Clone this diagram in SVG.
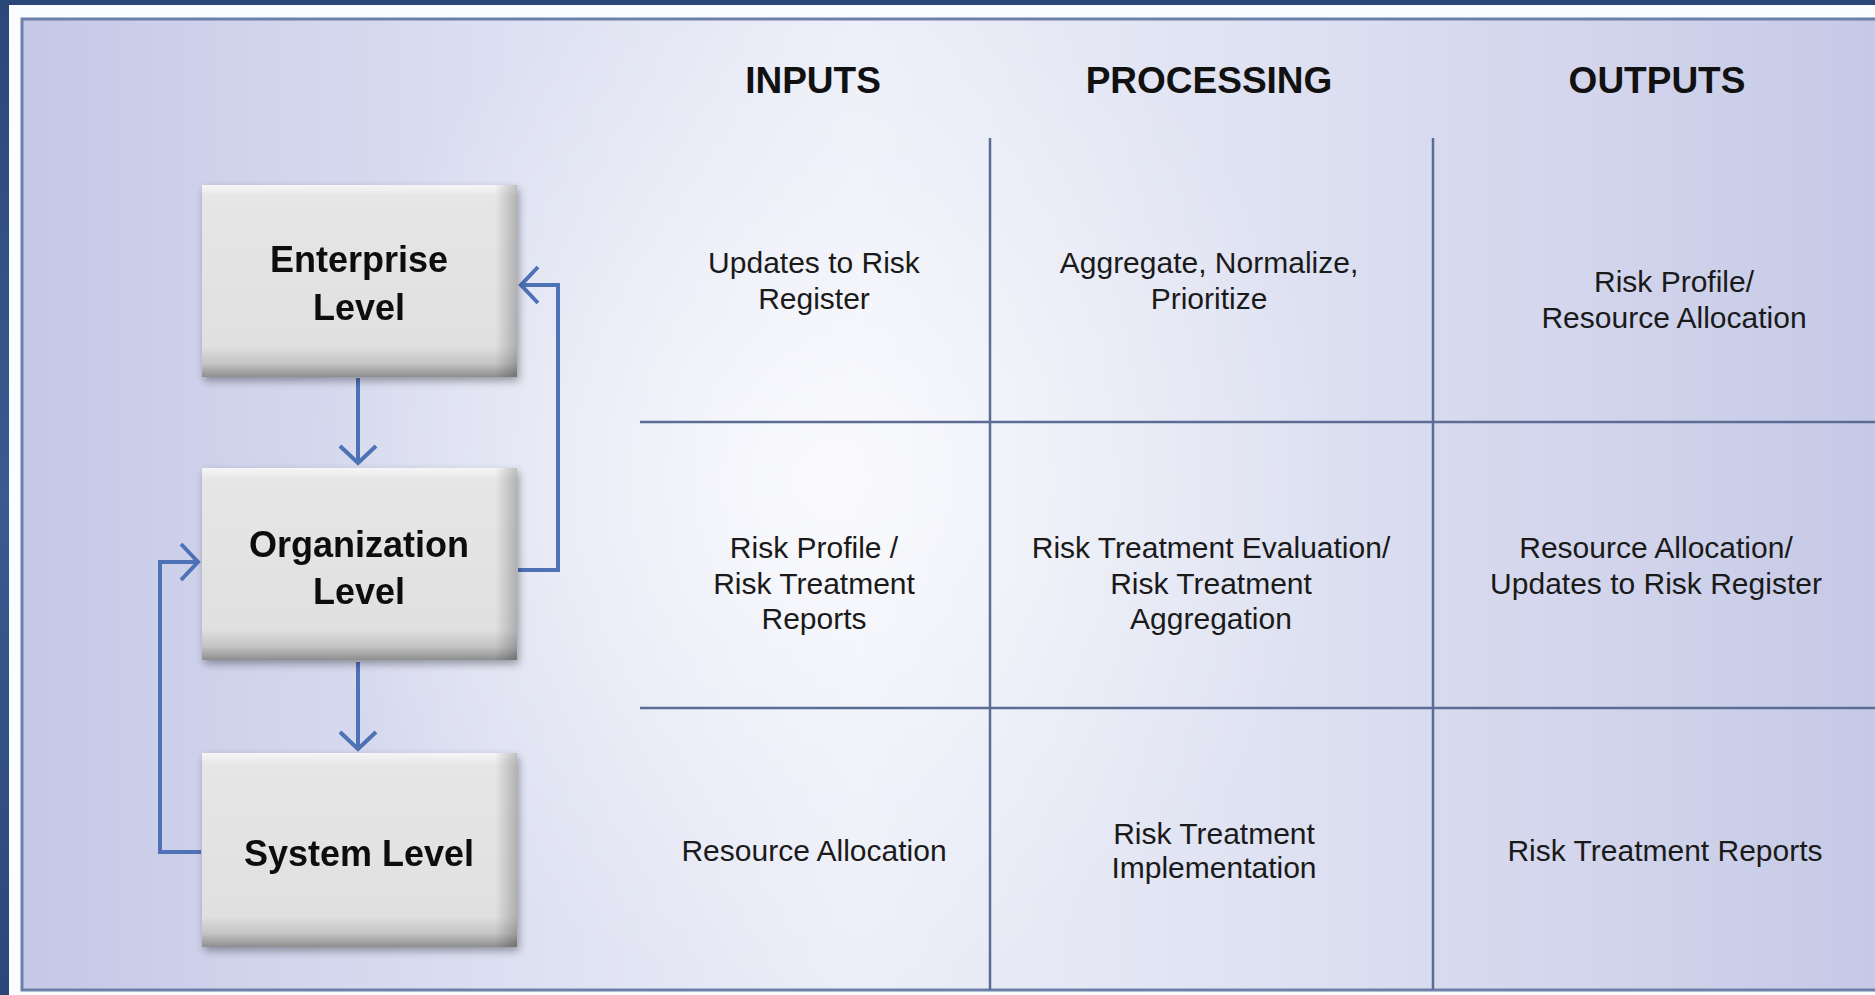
<svg xmlns="http://www.w3.org/2000/svg" width="1875" height="995" viewBox="0 0 1875 995">
  <defs>
    <linearGradient id="outerBg" x1="0" y1="0" x2="0" y2="1">
      <stop offset="0" stop-color="#2a4778"/>
      <stop offset="0.5" stop-color="#3a5a90"/>
      <stop offset="1" stop-color="#2a4778"/>
    </linearGradient>
    <linearGradient id="panelH" x1="0" y1="0" x2="1" y2="0">
      <stop offset="0" stop-color="#c5c8e6"/>
      <stop offset="0.25" stop-color="#dcdff1"/>
      <stop offset="0.45" stop-color="#eceef8"/>
      <stop offset="0.7" stop-color="#dde0f1"/>
      <stop offset="1" stop-color="#c6c9e6"/>
    </linearGradient>
    <radialGradient id="panelGlow" cx="820" cy="480" r="520" gradientUnits="userSpaceOnUse">
      <stop offset="0" stop-color="#ffffff" stop-opacity="0.75"/>
      <stop offset="0.6" stop-color="#ffffff" stop-opacity="0.25"/>
      <stop offset="1" stop-color="#ffffff" stop-opacity="0"/>
    </radialGradient>
    <linearGradient id="boxV" x1="0" y1="0" x2="0" y2="1">
      <stop offset="0" stop-color="#f6f6f6"/>
      <stop offset="0.06" stop-color="#e6e6e6"/>
      <stop offset="0.84" stop-color="#e0e0e0"/>
      <stop offset="0.93" stop-color="#c4c4c4"/>
      <stop offset="1" stop-color="#8e8e8e"/>
    </linearGradient>
    <linearGradient id="boxR" x1="0" y1="0" x2="1" y2="0">
      <stop offset="0" stop-color="#000000" stop-opacity="0"/>
      <stop offset="0.93" stop-color="#000000" stop-opacity="0"/>
      <stop offset="1" stop-color="#000000" stop-opacity="0.22"/>
    </linearGradient>
    <filter id="shadow" x="-10%" y="-10%" width="125%" height="130%">
      <feGaussianBlur in="SourceAlpha" stdDeviation="4"/>
      <feOffset dx="2" dy="4" result="b"/>
      <feComponentTransfer><feFuncA type="linear" slope="0.35"/></feComponentTransfer>
      <feMerge><feMergeNode/><feMergeNode in="SourceGraphic"/></feMerge>
    </filter>
    <marker id="arrow" viewBox="0 0 40 40" refX="38" refY="20" markerWidth="40" markerHeight="40" markerUnits="userSpaceOnUse" orient="auto">
      <path d="M20,2 L37,20 L20,38" fill="none" stroke="#4d72b6" stroke-width="4"/>
    </marker>
    <style>
      .hdr { font-family: "Liberation Sans", Arial, sans-serif; font-weight: bold; font-size: 37px; fill: #111; text-anchor: middle; }
      .cell { font-family: "Liberation Sans", Arial, sans-serif; font-size: 30px; fill: #1a1a1a; text-anchor: middle; }
      .lbl { font-family: "Liberation Sans", Arial, sans-serif; font-weight: bold; font-size: 36px; fill: #0d0d0d; text-anchor: middle; }
      .grid { stroke: #5b6d95; stroke-width: 2.5; fill: none; }
      .conn { stroke: #4d72b6; stroke-width: 4; fill: none; }
    </style>
  </defs>

  <!-- outer background and frame -->
  <rect x="0" y="0" width="1875" height="995" fill="url(#outerBg)"/>
  <rect x="9" y="5" width="1866" height="990" fill="#fbfcfe"/>
  <rect x="22" y="19" width="1860" height="971" fill="url(#panelH)"/>
  <rect x="22" y="19" width="1860" height="971" fill="url(#panelGlow)"/>
  <rect x="22" y="19" width="1860" height="971" fill="none" stroke="#6d80aa" stroke-width="3"/>

  <!-- headers -->
  <g id="headers">
    <text class="hdr" x="813" y="93">INPUTS</text>
    <text class="hdr" x="1209" y="93">PROCESSING</text>
    <text class="hdr" x="1657" y="93">OUTPUTS</text>
  </g>

  <!-- grid lines -->
  <g id="grid">
    <line class="grid" x1="990" y1="138" x2="990" y2="990"/>
    <line class="grid" x1="1433" y1="138" x2="1433" y2="990"/>
    <line class="grid" x1="640" y1="422" x2="1875" y2="422"/>
    <line class="grid" x1="640" y1="708" x2="1875" y2="708"/>
  </g>

  <!-- cells -->
  <g id="cell-r1-inputs">
    <text class="cell" x="814" y="273">Updates to Risk</text>
    <text class="cell" x="814" y="309">Register</text>
  </g>
  <g id="cell-r1-processing">
    <text class="cell" x="1209" y="273">Aggregate, Normalize,</text>
    <text class="cell" x="1209" y="309">Prioritize</text>
  </g>
  <g id="cell-r1-outputs">
    <text class="cell" x="1674" y="292">Risk Profile/</text>
    <text class="cell" x="1674" y="328">Resource Allocation</text>
  </g>
  <g id="cell-r2-inputs">
    <text class="cell" x="814" y="558">Risk Profile /</text>
    <text class="cell" x="814" y="594">Risk Treatment</text>
    <text class="cell" x="814" y="629">Reports</text>
  </g>
  <g id="cell-r2-processing">
    <text class="cell" x="1211" y="558">Risk Treatment Evaluation/</text>
    <text class="cell" x="1211" y="594">Risk Treatment</text>
    <text class="cell" x="1211" y="629">Aggregation</text>
  </g>
  <g id="cell-r2-outputs">
    <text class="cell" x="1656" y="558">Resource Allocation/</text>
    <text class="cell" x="1656" y="594">Updates to Risk Register</text>
  </g>
  <g id="cell-r3-inputs">
    <text class="cell" x="814" y="861">Resource Allocation</text>
  </g>
  <g id="cell-r3-processing">
    <text class="cell" x="1214" y="844">Risk Treatment</text>
    <text class="cell" x="1214" y="878">Implementation</text>
  </g>
  <g id="cell-r3-outputs">
    <text class="cell" x="1665" y="861">Risk Treatment Reports</text>
  </g>

  <!-- connectors -->
  <g id="connectors">
    <line class="conn" x1="358" y1="378" x2="358" y2="464" marker-end="url(#arrow)"/>
    <line class="conn" x1="358" y1="662" x2="358" y2="750" marker-end="url(#arrow)"/>
    <polyline class="conn" points="518,570 558,570 558,285 520,285" marker-end="url(#arrow)"/>
    <polyline class="conn" points="201,852 160,852 160,562 199,562" marker-end="url(#arrow)"/>
  </g>

  <!-- nodes -->
  <g id="node-enterprise" filter="url(#shadow)">
    <rect x="202" y="185" width="315" height="192" fill="url(#boxV)"/>
    <rect x="202" y="185" width="315" height="192" fill="url(#boxR)"/>
    <text class="lbl" x="359" y="272">Enterprise</text>
    <text class="lbl" x="359" y="320">Level</text>
  </g>
  <g id="node-organization" filter="url(#shadow)">
    <rect x="202" y="468" width="315" height="192" fill="url(#boxV)"/>
    <rect x="202" y="468" width="315" height="192" fill="url(#boxR)"/>
    <text class="lbl" x="359" y="557">Organization</text>
    <text class="lbl" x="359" y="604">Level</text>
  </g>
  <g id="node-system" filter="url(#shadow)">
    <rect x="202" y="753" width="315" height="194" fill="url(#boxV)"/>
    <rect x="202" y="753" width="315" height="194" fill="url(#boxR)"/>
    <text class="lbl" x="359" y="866">System Level</text>
  </g>
</svg>
